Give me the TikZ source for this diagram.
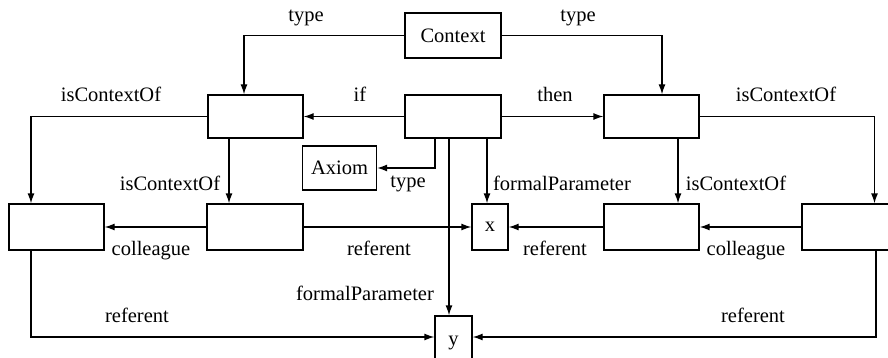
\documentclass[tikz,border=0pt]{standalone}
\usepackage{fontspec}
\setmainfont{Liberation Serif}
\usetikzlibrary{arrows.meta}
\begin{document}
\begin{tikzpicture}[x=1pt,y=-1pt,
  box/.style={draw, line width=1.3pt, inner sep=0pt, minimum width=#1},
  arr/.style={draw, line width=1.3pt, -{Latex[length=10pt,width=7pt]}},
  lbl/.style={anchor=base, inner sep=0pt, font=\fontsize{20.5}{24}\selectfont}]
\useasboundingbox (0,0) rectangle (888,358);
% boxes
\node[box=96, minimum height=45pt, font=\fontsize{20.5}{24}\selectfont] (ctx) at (453,35.5) {Context};
\node[box=95, minimum height=43pt] (L1) at (255.5,116.5) {};
\node[box=96, minimum height=43pt] (C) at (453,116.5) {};
\node[box=95, minimum height=43pt] (R1) at (651.5,116.5) {};
\node[box=74, minimum height=44pt, font=\fontsize{20.5}{24}\selectfont] (ax) at (339.5,168) {Axiom};
\node[box=95, minimum height=46pt] (L2) at (56.5,227) {};
\node[box=96, minimum height=46pt] (L3) at (255,227) {};
\node[box=36, minimum height=46pt, font=\fontsize{20.5}{24}\selectfont] (xb) at (490,227) {x};
\node[box=95, minimum height=46pt] (R3) at (651.5,227) {};
\node[box=96, minimum height=46pt] (R2) at (850,227) {};
\node[box=37, minimum height=48pt] (yb) at (453.5,340) {};
\node[lbl] (ylab) at (453.5,345) {y};
% connectors
\draw[arr] (ctx.west) -| ([xshift=-11.5pt]L1.north);
\draw[arr] (ctx.east) -| ([xshift=10.5pt]R1.north);
\draw[arr] (C.west) -- (L1.east);
\draw[arr] (C.east) -- (R1.west);
\draw[arr] (L1.west) -| ([xshift=-25.5pt]L2.north);
\draw[arr] (R1.east) -| ([xshift=24.5pt]R2.north);
\draw[arr] ([xshift=-26.5pt]L1.south) -- ([xshift=-26.5pt]L1.south |- L3.north);
\draw[arr] ([xshift=26.5pt]R1.south) -- ([xshift=26.5pt]R1.south |- R3.north);
\draw[arr] ([xshift=-18pt]C.south) |- (ax.east);
\draw[arr] ([xshift=-4pt]C.south) -- ([xshift=-4pt]C.south |- yb.north);
\draw[arr] ([xshift=34pt]C.south) -- ([xshift=34pt]C.south |- xb.north);
\draw[arr] (L3.east) -- (xb.west);
\draw[arr] (R3.west) -- (xb.east);
\draw[arr] (L3.west) -- (L2.east);
\draw[arr] (R2.west) -- (R3.east);
\draw[arr] ([xshift=-25.5pt]L2.south) |- ([yshift=3pt]yb.west);
\draw[arr] ([xshift=26pt]R2.south) |- ([yshift=3pt]yb.east);
% labels
\node[lbl] (t1) at (306,22) {type};
\node[lbl] (t2) at (578,22) {type};
\node[lbl] (i1) at (111,102) {isContextOf};
\node[lbl] (if) at (360,102) {if};
\node[lbl] (th) at (555,102) {then};
\node[lbl] (i2) at (786,102) {isContextOf};
\node[lbl] (i3) at (170,190) {isContextOf};
\node[lbl] (t3) at (408,187) {type};
\node[lbl] (f1) at (562,190) {formalParameter};
\node[lbl] (i4) at (736,190) {isContextOf};
\node[lbl] (c1) at (151,255) {colleague};
\node[lbl] (r1) at (379,255) {referent};
\node[lbl] (r2) at (555,255) {referent};
\node[lbl] (c2) at (746,255) {colleague};
\node[lbl] (f2) at (365,300) {formalParameter};
\node[lbl] (r3) at (137,322) {referent};
\node[lbl] (r4) at (753,322) {referent};
\end{tikzpicture}
\end{document}
